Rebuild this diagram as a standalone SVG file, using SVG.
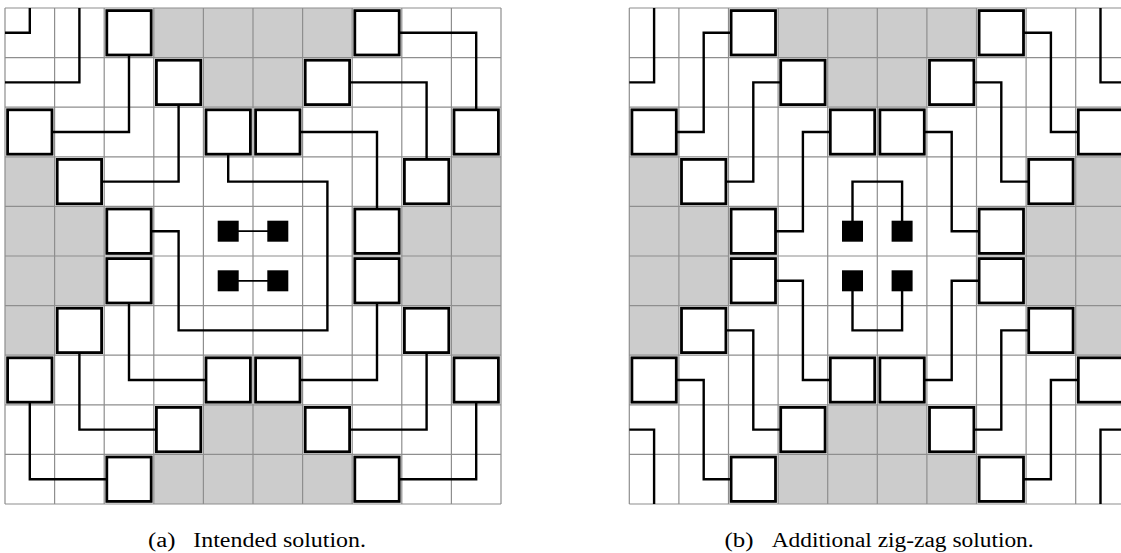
<svg xmlns="http://www.w3.org/2000/svg" xmlns:xlink="http://www.w3.org/1999/xlink" width="1121" height="553" viewBox="0 0 1121 553">
<style>
.cell{fill:#cccccc}
.gl{fill:none;stroke:#8e8e8e;stroke-width:1.2}
.box{fill:#fff;stroke:#000;stroke-width:2.8}
.wire{fill:none;stroke:#000;stroke-width:2.4;stroke-linejoin:miter;stroke-linecap:butt}
.thin{stroke-width:1.8}
.pin{fill:#000}
.cap{font-family:"Liberation Serif","DejaVu Serif",serif;font-size:20px;fill:#000}
</style>
<defs>
<g id="gridbase">
<rect x="5" y="8" width="496" height="496" fill="#fff"/>
<rect class="cell" x="153.8" y="8" width="198.4" height="49.6"/>
<rect class="cell" x="203.4" y="57.6" width="99.2" height="49.6"/>
<rect class="cell" x="5" y="156.8" width="49.6" height="49.6"/>
<rect class="cell" x="451.4" y="156.8" width="49.6" height="49.6"/>
<rect class="cell" x="5" y="206.4" width="99.2" height="99.2"/>
<rect class="cell" x="401.8" y="206.4" width="99.2" height="99.2"/>
<rect class="cell" x="5" y="305.6" width="49.6" height="49.6"/>
<rect class="cell" x="451.4" y="305.6" width="49.6" height="49.6"/>
<rect class="cell" x="203.4" y="404.8" width="99.2" height="49.6"/>
<rect class="cell" x="153.8" y="454.4" width="198.4" height="49.6"/>
<path class="gl" d="M5 8V504M54.6 8V504M104.2 8V504M153.8 8V504M203.4 8V504M253 8V504M302.6 8V504M352.2 8V504M401.8 8V504M451.4 8V504M501 8V504M5 8H501M5 57.6H501M5 107.2H501M5 156.8H501M5 206.4H501M5 256H501M5 305.6H501M5 355.2H501M5 404.8H501M5 454.4H501M5 504H501"/>
</g>
</defs>
<rect width="1121" height="553" fill="#fff"/>

<!-- (a) Intended solution -->
<g id="gridA">
<use xlink:href="#gridbase" href="#gridbase"/>
<g id="connectorsA">
<path class="wire" d="M29.8 8V32.8H5"/>
<path class="wire" d="M79.4 8V82.4H5"/>
<path class="wire" d="M129 32.8V132H29.8"/>
<path class="wire" d="M178.6 82.4V181.6H79.4"/>
<path class="wire" d="M228.2 132V181.6H327.4V330.4H178.6V231.2H129"/>
<path class="wire" d="M377 32.8H476.2V132"/>
<path class="wire" d="M327.4 82.4H426.6V181.6"/>
<path class="wire" d="M277.8 132H377V231.2"/>
<path class="wire" d="M377 280.8V380H277.8"/>
<path class="wire" d="M426.6 330.4V429.6H327.4"/>
<path class="wire" d="M476.2 380V479.2H377"/>
<path class="wire" d="M129 280.8V380H228.2"/>
<path class="wire" d="M79.4 330.4V429.6H178.6"/>
<path class="wire" d="M29.8 380V479.2H129"/>
<path class="wire thin" d="M228.2 231.2H277.8"/>
<path class="wire thin" d="M228.2 280.8H277.8"/>
</g>
<g id="a-r0c2"><rect class="box" x="106.8" y="10.6" width="44.4" height="44.4"/></g>
<g id="a-r0c7"><rect class="box" x="354.8" y="10.6" width="44.4" height="44.4"/></g>
<g id="a-r1c3"><rect class="box" x="156.4" y="60.2" width="44.4" height="44.4"/></g>
<g id="a-r1c6"><rect class="box" x="305.2" y="60.2" width="44.4" height="44.4"/></g>
<g id="a-r2c0"><rect class="box" x="7.6" y="109.8" width="44.4" height="44.4"/></g>
<g id="a-r2c4"><rect class="box" x="206" y="109.8" width="44.4" height="44.4"/></g>
<g id="a-r2c5"><rect class="box" x="255.6" y="109.8" width="44.4" height="44.4"/></g>
<g id="a-r2c9"><rect class="box" x="454" y="109.8" width="44.4" height="44.4"/></g>
<g id="a-r3c1"><rect class="box" x="57.2" y="159.4" width="44.4" height="44.4"/></g>
<g id="a-r3c8"><rect class="box" x="404.4" y="159.4" width="44.4" height="44.4"/></g>
<g id="a-r4c2"><rect class="box" x="106.8" y="209" width="44.4" height="44.4"/></g>
<g id="a-r4c7"><rect class="box" x="354.8" y="209" width="44.4" height="44.4"/></g>
<g id="a-r5c2"><rect class="box" x="106.8" y="258.6" width="44.4" height="44.4"/></g>
<g id="a-r5c7"><rect class="box" x="354.8" y="258.6" width="44.4" height="44.4"/></g>
<g id="a-r6c1"><rect class="box" x="57.2" y="308.2" width="44.4" height="44.4"/></g>
<g id="a-r6c8"><rect class="box" x="404.4" y="308.2" width="44.4" height="44.4"/></g>
<g id="a-r7c0"><rect class="box" x="7.6" y="357.8" width="44.4" height="44.4"/></g>
<g id="a-r7c4"><rect class="box" x="206" y="357.8" width="44.4" height="44.4"/></g>
<g id="a-r7c5"><rect class="box" x="255.6" y="357.8" width="44.4" height="44.4"/></g>
<g id="a-r7c9"><rect class="box" x="454" y="357.8" width="44.4" height="44.4"/></g>
<g id="a-r8c3"><rect class="box" x="156.4" y="407.4" width="44.4" height="44.4"/></g>
<g id="a-r8c6"><rect class="box" x="305.2" y="407.4" width="44.4" height="44.4"/></g>
<g id="a-r9c2"><rect class="box" x="106.8" y="457" width="44.4" height="44.4"/></g>
<g id="a-r9c7"><rect class="box" x="354.8" y="457" width="44.4" height="44.4"/></g>
<g id="a-p44"><rect class="pin" x="217.7" y="220.7" width="21" height="21"/></g>
<g id="a-p45"><rect class="pin" x="267.3" y="220.7" width="21" height="21"/></g>
<g id="a-p54"><rect class="pin" x="217.7" y="270.3" width="21" height="21"/></g>
<g id="a-p55"><rect class="pin" x="267.3" y="270.3" width="21" height="21"/></g>
</g>

<!-- (b) Additional zig-zag solution -->
<g id="gridB" transform="translate(624.3,0)">
<use xlink:href="#gridbase" href="#gridbase"/>
<g id="connectorsB">
<path class="wire" d="M29.8 8V82.4H5"/>
<path class="wire" d="M129 32.8H79.4V132H29.8"/>
<path class="wire" d="M178.6 82.4H129V181.6H79.4"/>
<path class="wire" d="M228.2 132H178.6V231.2H129"/>
<path class="wire" d="M228.2 231.2V181.6H277.8V231.2"/>
<path class="wire" d="M228.2 280.8V330.4H277.8V280.8"/>
<path class="wire" d="M377 32.8H426.6V132H476.2"/>
<path class="wire" d="M476.2 8V82.4H501"/>
<path class="wire" d="M327.4 82.4H377V181.6H426.6"/>
<path class="wire" d="M277.8 132H327.4V231.2H377"/>
<path class="wire" d="M129 280.8H178.6V380H228.2"/>
<path class="wire" d="M79.4 330.4H129V429.6H178.6"/>
<path class="wire" d="M29.8 380H79.4V479.2H129"/>
<path class="wire" d="M5 429.6H29.8V504"/>
<path class="wire" d="M377 280.8H327.4V380H277.8"/>
<path class="wire" d="M426.6 330.4H377V429.6H327.4"/>
<path class="wire" d="M476.2 380H426.6V479.2H377"/>
<path class="wire" d="M501 429.6H476.2V504"/>
</g>
<g id="b-r0c2"><rect class="box" x="106.8" y="10.6" width="44.4" height="44.4"/></g>
<g id="b-r0c7"><rect class="box" x="354.8" y="10.6" width="44.4" height="44.4"/></g>
<g id="b-r1c3"><rect class="box" x="156.4" y="60.2" width="44.4" height="44.4"/></g>
<g id="b-r1c6"><rect class="box" x="305.2" y="60.2" width="44.4" height="44.4"/></g>
<g id="b-r2c0"><rect class="box" x="7.6" y="109.8" width="44.4" height="44.4"/></g>
<g id="b-r2c4"><rect class="box" x="206" y="109.8" width="44.4" height="44.4"/></g>
<g id="b-r2c5"><rect class="box" x="255.6" y="109.8" width="44.4" height="44.4"/></g>
<g id="b-r2c9"><rect class="box" x="454" y="109.8" width="44.4" height="44.4"/></g>
<g id="b-r3c1"><rect class="box" x="57.2" y="159.4" width="44.4" height="44.4"/></g>
<g id="b-r3c8"><rect class="box" x="404.4" y="159.4" width="44.4" height="44.4"/></g>
<g id="b-r4c2"><rect class="box" x="106.8" y="209" width="44.4" height="44.4"/></g>
<g id="b-r4c7"><rect class="box" x="354.8" y="209" width="44.4" height="44.4"/></g>
<g id="b-r5c2"><rect class="box" x="106.8" y="258.6" width="44.4" height="44.4"/></g>
<g id="b-r5c7"><rect class="box" x="354.8" y="258.6" width="44.4" height="44.4"/></g>
<g id="b-r6c1"><rect class="box" x="57.2" y="308.2" width="44.4" height="44.4"/></g>
<g id="b-r6c8"><rect class="box" x="404.4" y="308.2" width="44.4" height="44.4"/></g>
<g id="b-r7c0"><rect class="box" x="7.6" y="357.8" width="44.4" height="44.4"/></g>
<g id="b-r7c4"><rect class="box" x="206" y="357.8" width="44.4" height="44.4"/></g>
<g id="b-r7c5"><rect class="box" x="255.6" y="357.8" width="44.4" height="44.4"/></g>
<g id="b-r7c9"><rect class="box" x="454" y="357.8" width="44.4" height="44.4"/></g>
<g id="b-r8c3"><rect class="box" x="156.4" y="407.4" width="44.4" height="44.4"/></g>
<g id="b-r8c6"><rect class="box" x="305.2" y="407.4" width="44.4" height="44.4"/></g>
<g id="b-r9c2"><rect class="box" x="106.8" y="457" width="44.4" height="44.4"/></g>
<g id="b-r9c7"><rect class="box" x="354.8" y="457" width="44.4" height="44.4"/></g>
<g id="b-p44"><rect class="pin" x="217.7" y="220.7" width="21" height="21"/></g>
<g id="b-p45"><rect class="pin" x="267.3" y="220.7" width="21" height="21"/></g>
<g id="b-p54"><rect class="pin" x="217.7" y="270.3" width="21" height="21"/></g>
<g id="b-p55"><rect class="pin" x="267.3" y="270.3" width="21" height="21"/></g>
</g>

<g id="captions">
<text class="cap" x="148" y="547" textLength="27.5" lengthAdjust="spacingAndGlyphs">(a)</text>
<text class="cap" x="193.3" y="547" textLength="172.7" lengthAdjust="spacingAndGlyphs">Intended solution.</text>
<text class="cap" x="724.5" y="547" textLength="29" lengthAdjust="spacingAndGlyphs">(b)</text>
<text class="cap" x="771.7" y="547" textLength="262" lengthAdjust="spacingAndGlyphs">Additional zig-zag solution.</text>
</g>
</svg>
